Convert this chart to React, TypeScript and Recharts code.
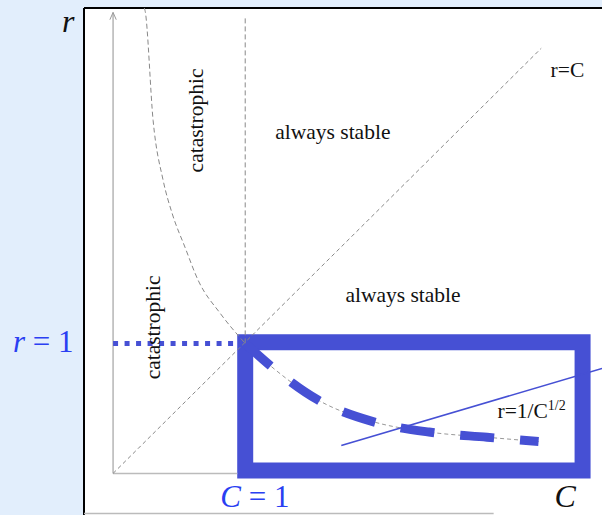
import {
  ComposedChart,
  XAxis,
  YAxis,
  Line,
  ReferenceArea,
  ReferenceLine,
  ReferenceDot,
} from "recharts";

// axis ranges in (C, r) units
const C_DOMAIN: [number, number] = [-0.22, 3.7];
const R_DOMAIN: [number, number] = [-0.32, 3.58];

// r = C diagonal
const diagonal = [
  { C: 0, r: 0 },
  { C: 3.24, r: 3.27 },
];

// left boundary of the catastrophic region
const leftEdge = [
  { C: 0.236, r: 3.58 },
  { C: 0.242, r: 3.56 },
  { C: 0.303, r: 2.715 },
  { C: 0.379, r: 2.254 },
  { C: 0.447, r: 2.0 },
  { C: 0.545, r: 1.738 },
  { C: 0.644, r: 1.485 },
  { C: 0.811, r: 1.231 },
  { C: 1.0, r: 1.0 },
];

// C = 1 boundary above r = 1
const upperEdge = [
  { C: 1, r: 1 },
  { C: 1, r: 3.52 },
];

// curve inside the box
const lowCurve = [
  { C: 1.0, r: 1.0 },
  { C: 1.2, r: 0.82 },
  { C: 1.55, r: 0.565 },
  { C: 1.96, r: 0.4 },
  { C: 2.39, r: 0.318 },
  { C: 2.83, r: 0.278 },
  { C: 3.22, r: 0.245 },
];

// thin blue line r=1/C^(1/2)
const thinLine = [
  { C: 1.727, r: 0.215 },
  { C: 3.7, r: 0.807 },
];

const rOne = [
  { C: 0, r: 1 },
  { C: 0.94, r: 1 },
];

const rAxis = [
  { C: 0, r: 0 },
  { C: 0, r: 3.546 },
];
const cAxis = [
  { C: 0, r: 0 },
  { C: 0.94, r: 0 },
];
const arrow = [
  { C: -0.024, r: 3.49 },
  { C: 0, r: 3.546 },
  { C: 0.024, r: 3.49 },
];

const BOX = { c1: 1, c2: 3.553, r1: 0.023, r2: 1.008 };

type Note = {
  id: string;
  C: number;
  r: number;
  kind: "plain" | "vertical" | "italic" | "eq" | "power";
  text: string;
};

const notes: Note[] = [
  { id: "cat1", C: 0.682, r: 2.715, kind: "vertical", text: "catastrophic" },
  { id: "cat2", C: 0.356, r: 1.123, kind: "vertical", text: "catastrophic" },
  { id: "st1", C: 1.227, r: 2.569, kind: "plain", text: "always stable" },
  { id: "st2", C: 1.758, r: 1.315, kind: "plain", text: "always stable" },
  { id: "rc", C: 3.311, r: 3.046, kind: "plain", text: "r=C" },
  { id: "pw", C: 2.909, r: 0.423, kind: "power", text: "r=1/C" },
  { id: "rl", C: -0.386, r: 3.392, kind: "italic", text: "r" },
  { id: "r1", C: -0.758, r: 0.931, kind: "eq", text: "r" },
  { id: "c1", C: 0.811, r: -0.262, kind: "eq", text: "C" },
  { id: "cl", C: 3.341, r: -0.262, kind: "italic", text: "C" },
];

const SERIF = "'Liberation Serif', 'DejaVu Serif', serif";
const BOX_BLUE = "#4650d4";
const TEXT_BLUE = "#2a3ff2";

function drawNote(n: Note, cx: number, cy: number) {
  const base = { fontFamily: SERIF };
  if (n.kind === "vertical") {
    return (
      <text
        x={cx}
        y={cy}
        {...base}
        fontSize={21.5}
        textAnchor="middle"
        transform={`rotate(-90 ${cx} ${cy})`}
        fill="#111"
      >
        {n.text}
      </text>
    );
  }
  if (n.kind === "plain") {
    return (
      <text x={cx} y={cy} {...base} fontSize={21.5} fill="#111">
        {n.text}
      </text>
    );
  }
  if (n.kind === "power") {
    return (
      <text x={cx} y={cy} {...base} fontSize={21.5} fill="#111">
        {n.text}
        <tspan fontSize={14} dy={-8}>
          1/2
        </tspan>
      </text>
    );
  }
  if (n.kind === "italic") {
    return (
      <text x={cx} y={cy} {...base} fontSize={32} fontStyle="italic" fill="#111">
        {n.text}
      </text>
    );
  }
  return (
    <text x={cx} y={cy} {...base} fontSize={31} fill={TEXT_BLUE}>
      <tspan fontStyle="italic">{n.text}</tspan>
      <tspan> = 1</tspan>
    </text>
  );
}

export default function App() {
  return (
    <div
      style={{
        position: "fixed",
        left: 0,
        top: 0,
        width: 602,
        height: 515,
        background: "#e2eefc",
      }}
    >
      <ComposedChart
        width={602}
        height={515}
        margin={{ top: 8, right: 0, bottom: 0, left: 84 }}
      >
        <XAxis
          type="number"
          dataKey="C"
          domain={C_DOMAIN}
          allowDataOverflow
          hide
        />
        <YAxis type="number" domain={R_DOMAIN} allowDataOverflow hide />

        <ReferenceArea
          x1={C_DOMAIN[0]}
          x2={C_DOMAIN[1]}
          y1={R_DOMAIN[0]}
          y2={R_DOMAIN[1]}
          fill="#ffffff"
          fillOpacity={1}
          stroke="none"
        />
        <ReferenceLine x={C_DOMAIN[0]} stroke="#000" strokeWidth={2} />
        <ReferenceLine y={R_DOMAIN[1]} stroke="#000" strokeWidth={2} />
        <ReferenceLine
          segment={[
            { x: C_DOMAIN[0], y: -0.308 },
            { x: 2.88, y: -0.308 },
          ]}
          stroke="#bbb"
          strokeWidth={1.5}
        />

        <Line data={rAxis} dataKey="r" type="linear" stroke="#aaa" strokeWidth={1.3} dot={false} activeDot={false} isAnimationActive={false} />
        <Line data={cAxis} dataKey="r" type="linear" stroke="#bbb" strokeWidth={1.5} dot={false} activeDot={false} isAnimationActive={false} />
        <Line data={arrow} dataKey="r" type="linear" stroke="#999" strokeWidth={1} dot={false} activeDot={false} isAnimationActive={false} />

        <Line data={diagonal} dataKey="r" type="linear" stroke="#888" strokeWidth={1} strokeDasharray="4 3" dot={false} activeDot={false} isAnimationActive={false} />
        <Line data={leftEdge} dataKey="r" type="monotone" stroke="#888" strokeWidth={1} strokeDasharray="5 3" dot={false} activeDot={false} isAnimationActive={false} />
        <Line data={upperEdge} dataKey="r" type="linear" stroke="#888" strokeWidth={1} strokeDasharray="5 3" dot={false} activeDot={false} isAnimationActive={false} />

        <Line data={rOne} dataKey="r" type="linear" stroke={BOX_BLUE} strokeWidth={5} strokeDasharray="5 6.5" dot={false} activeDot={false} isAnimationActive={false} />

        <ReferenceArea
          x1={BOX.c1}
          x2={BOX.c2}
          y1={BOX.r1}
          y2={BOX.r2}
          fill="none"
          stroke={BOX_BLUE}
          strokeWidth={16}
        />

        <Line data={lowCurve} dataKey="r" type="monotone" stroke="#999" strokeWidth={1} strokeDasharray="4 3" dot={false} activeDot={false} isAnimationActive={false} />
        <Line data={lowCurve} dataKey="r" type="monotone" stroke={BOX_BLUE} strokeWidth={9} strokeDasharray="34 26" dot={false} activeDot={false} isAnimationActive={false} />
        <Line data={thinLine} dataKey="r" type="linear" stroke={BOX_BLUE} strokeWidth={1.6} dot={false} activeDot={false} isAnimationActive={false} />

        {notes.map((n) => (
          <ReferenceDot
            key={n.id}
            x={n.C}
            y={n.r}
            r={0}
            ifOverflow="visible"
            shape={(p: any) => drawNote(n, p.cx, p.cy)}
          />
        ))}
      </ComposedChart>
    </div>
  );
}
